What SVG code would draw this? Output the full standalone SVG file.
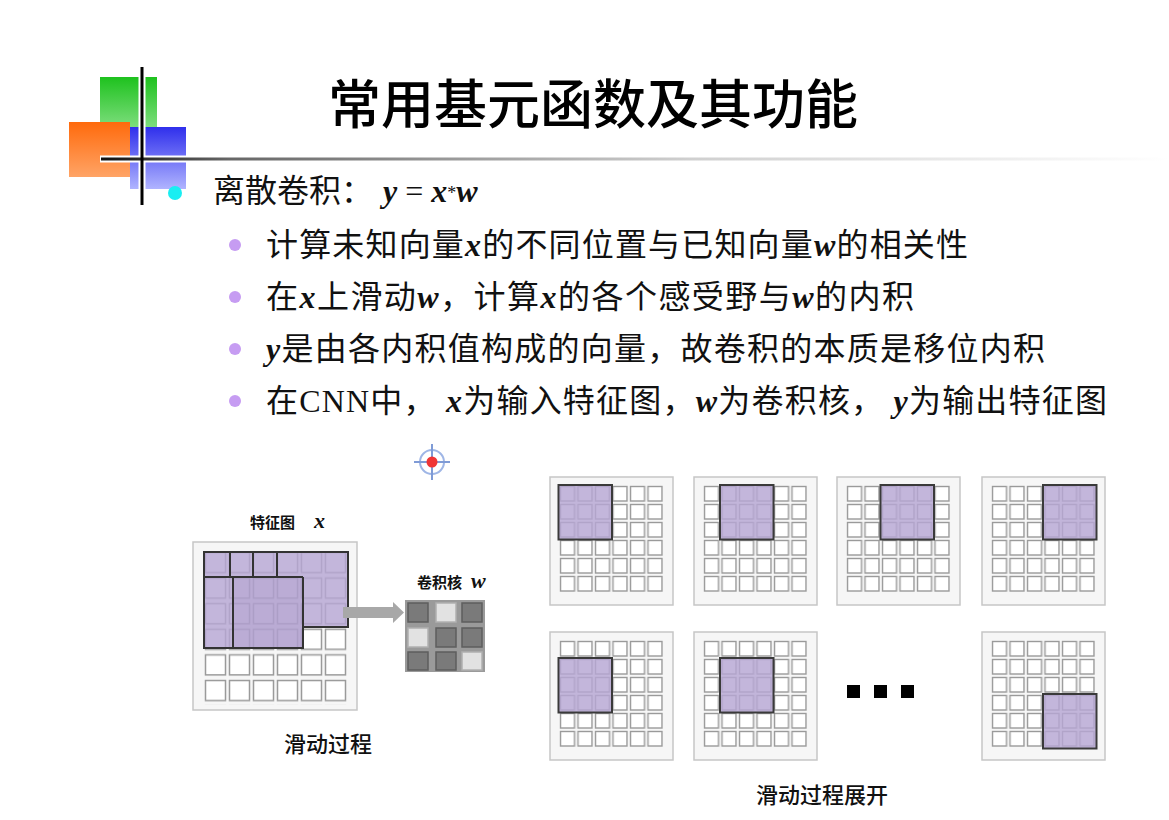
<svg xmlns="http://www.w3.org/2000/svg" width="1169" height="820" viewBox="0 0 1169 820">
  <defs>
    <linearGradient id="gGreen" x1="0" y1="0" x2="0" y2="1">
      <stop offset="0" stop-color="#1ec21e"/>
      <stop offset="1" stop-color="#95e495"/>
    </linearGradient>
    <linearGradient id="gOrange" x1="0" y1="0" x2="0" y2="1">
      <stop offset="0" stop-color="#ff6a0c"/>
      <stop offset="1" stop-color="#ffa466"/>
    </linearGradient>
    <linearGradient id="gBlue" x1="0" y1="0" x2="0" y2="1">
      <stop offset="0" stop-color="#2f2fec"/>
      <stop offset="1" stop-color="#b0b4ff"/>
    </linearGradient>
    <linearGradient id="gRule" x1="100" y1="0" x2="1169" y2="0" gradientUnits="userSpaceOnUse">
      <stop offset="0" stop-color="#111"/>
      <stop offset="0.12" stop-color="#666"/>
      <stop offset="0.55" stop-color="#cfcfcf"/>
      <stop offset="1" stop-color="#ffffff"/>
    </linearGradient>
    <!-- grid cells for the small feature maps (tiles anchored at the grid origin) -->
    <pattern id="cellsS" x="9" y="8" width="17.5" height="18" patternUnits="userSpaceOnUse">
      <rect x="1.5" y="1.5" width="14" height="14.5" fill="#fff" stroke="#9a9a9a" stroke-width="1.4"/>
    </pattern>
    <!-- grid cells for the large feature map -->
    <pattern id="cellsL" x="204" y="551" width="24" height="25.6" patternUnits="userSpaceOnUse">
      <rect x="1.5" y="1.5" width="20" height="20" fill="#fff" stroke="#9a9a9a" stroke-width="1.5"/>
    </pattern>
    <g id="boxS">
      <rect x="0" y="0" width="123" height="128" fill="#f6f6f6" stroke="#c6c6c6" stroke-width="1.5"/>
      <rect x="9" y="8" width="105" height="108" fill="url(#cellsS)"/>
    </g>
    <rect id="win" width="53.5" height="54.5" class="win"/>
  </defs>
  <style>
    .body { font-family: "Liberation Serif", "Noto Sans CJK SC", serif; font-size: 32px; fill: #111; }
    .var { font-family: "Liberation Serif", serif; font-weight: bold; font-style: italic; }
    .lbl { font-family: "Noto Sans CJK SC", "Liberation Sans", sans-serif; fill: #111; }
    .win { fill: #b6a6d3; fill-opacity: 0.82; stroke: #3a3a3a; stroke-width: 2; }
    .veil { fill: #b6a6d3; fill-opacity: 0.82; }
    .bullet { fill: #c69cf2; }
    .kd { fill: #7a7a7a; stroke: #5e5e5e; stroke-width: 1.5; }
    .kl { fill: #e2e2e2; stroke: #b0b0b0; stroke-width: 1.5; }
    .dot { fill: #000; }
  </style>

  <rect width="1169" height="820" fill="#ffffff"/>

  <!-- corner logo -->
  <g id="logo">
    <rect x="100" y="77" width="57" height="63" fill="url(#gGreen)"/>
    <rect x="69" y="122" width="61" height="55" fill="url(#gOrange)"/>
    <rect x="130" y="127" width="56" height="62" fill="url(#gBlue)"/>
    <line x1="100" y1="159" x2="1169" y2="159" stroke="#fff" stroke-width="7"/>
    <line x1="142" y1="67" x2="142" y2="205" stroke="#fff" stroke-width="7"/>
    <line x1="101" y1="159" x2="1169" y2="159" stroke="url(#gRule)" stroke-width="3"/>
    <line x1="142" y1="67" x2="142" y2="205" stroke="#000" stroke-width="3"/>
  </g>

  <!-- title -->
  <text id="title" x="593" y="124" text-anchor="middle" font-family="Noto Sans CJK SC, sans-serif" font-size="53" font-weight="500" fill="#000">常用基元函数及其功能</text>

  <!-- bullet list -->
  <g id="bullets">
    <circle cx="175" cy="193" r="7" fill="#19eef2"/>
    <text class="body" x="213" y="202">离散卷积：</text>
    <text class="body" x="383" y="202"><tspan class="var">y</tspan> = <tspan class="var">x</tspan><tspan font-size="18" dy="-3">*</tspan><tspan class="var" dy="3">w</tspan></text>

    <circle class="bullet" cx="235" cy="245" r="6"/>
    <text class="body" x="266" y="256" textLength="702">计算未知向量<tspan class="var">x</tspan>的不同位置与已知向量<tspan class="var">w</tspan>的相关性</text>

    <circle class="bullet" cx="235" cy="297" r="6"/>
    <text class="body" x="266" y="308" textLength="648">在<tspan class="var">x</tspan>上滑动<tspan class="var">w</tspan>，计算<tspan class="var">x</tspan>的各个感受野与<tspan class="var">w</tspan>的内积</text>

    <circle class="bullet" cx="235" cy="349" r="6"/>
    <text class="body" x="266" y="360" textLength="779"><tspan class="var">y</tspan>是由各内积值构成的向量，故卷积的本质是移位内积</text>

    <circle class="bullet" cx="235" cy="401" r="6"/>
    <text class="body" x="266" y="412" textLength="841">在CNN中， <tspan class="var">x</tspan>为输入特征图，<tspan class="var">w</tspan>为卷积核， <tspan class="var">y</tspan>为输出特征图</text>
  </g>

  <!-- target marker -->
  <g id="marker">
    <circle cx="432" cy="462" r="12" fill="none" stroke="#9fb6e6" stroke-width="2"/>
    <line x1="414" y1="462" x2="450" y2="462" stroke="#7f9bd6" stroke-width="2"/>
    <line x1="432" y1="444" x2="432" y2="480" stroke="#7f9bd6" stroke-width="2"/>
    <circle cx="432" cy="462" r="5.5" fill="#f03535"/>
  </g>

  <!-- sliding process: feature map x -->
  <g id="featureMap">
    <rect x="193" y="542" width="164" height="168" fill="#f6f6f6" stroke="#c6c6c6" stroke-width="1.5"/>
    <rect x="204" y="551" width="144" height="153.6" fill="url(#cellsL)"/>
    <path class="veil" d="M204,552 H348 V627 H303 V648 H204 Z"/>
    <rect x="233" y="577" width="70" height="71" fill="#9c88c0" fill-opacity="0.2"/>
    <g fill="none" stroke="#333" stroke-width="2">
      <path d="M204,552 H348 V627 H303 V648 H204 Z"/>
      <path d="M204,577 H303 M230,552 V577 M253,552 V577 M277,552 V577 M233,577 V648 M303,577 V627"/>
    </g>
    <text class="lbl" x="250" y="528" font-size="15" font-weight="bold">特征图</text>
    <text class="var" x="314" y="528" font-size="22" fill="#111">x</text>
    <text class="lbl" x="284" y="752" font-size="22" font-weight="500">滑动过程</text>
  </g>

  <!-- kernel w -->
  <g id="kernel">
    <rect x="405" y="600" width="80" height="72" fill="#9a9a9a"/>
    <rect class="kd" x="408" y="603" width="20" height="19"/>
    <rect class="kl" x="436" y="603" width="20" height="19"/>
    <rect class="kd" x="462" y="603" width="20" height="19"/>
    <rect class="kl" x="408" y="628" width="20" height="19"/>
    <rect class="kd" x="436" y="628" width="20" height="19"/>
    <rect class="kd" x="462" y="628" width="20" height="19"/>
    <rect class="kd" x="408" y="652" width="20" height="18"/>
    <rect class="kd" x="436" y="652" width="20" height="18"/>
    <rect class="kl" x="462" y="652" width="20" height="18"/>
    <text class="lbl" x="417" y="588" font-size="15" font-weight="bold">卷积核</text>
    <text class="var" x="471" y="588" font-size="22" fill="#111">w</text>
  </g>

  <!-- connector: feature map to kernel -->
  <g id="connectors">
    <path d="M343,607 H393 V602 L404,612.5 L393,623 V618 H343 Z" fill="#a8a8a8"/>
  </g>

  <!-- unrolled sliding steps -->
  <g id="step1" transform="translate(550,477)">
    <use href="#boxS"/><use href="#win" x="8.5" y="8"/>
  </g>
  <g id="step2" transform="translate(694,477)">
    <use href="#boxS"/><use href="#win" x="26" y="8"/>
  </g>
  <g id="step3" transform="translate(837,477)">
    <use href="#boxS"/><use href="#win" x="43.5" y="8"/>
  </g>
  <g id="step4" transform="translate(982,477)">
    <use href="#boxS"/><use href="#win" x="61" y="8"/>
  </g>
  <g id="step5" transform="translate(550,632)">
    <use href="#boxS"/><use href="#win" x="8.5" y="26"/>
  </g>
  <g id="step6" transform="translate(694,632)">
    <use href="#boxS"/><use href="#win" x="26" y="26"/>
  </g>
  <g id="ellipsis">
    <rect class="dot" x="847" y="685" width="13" height="13"/>
    <rect class="dot" x="874" y="685" width="13" height="13"/>
    <rect class="dot" x="901" y="685" width="13" height="13"/>
  </g>
  <g id="stepLast" transform="translate(982,632)">
    <use href="#boxS"/><use href="#win" x="61" y="62"/>
  </g>
  <text class="lbl" x="756" y="803" font-size="22" font-weight="500">滑动过程展开</text>
</svg>
